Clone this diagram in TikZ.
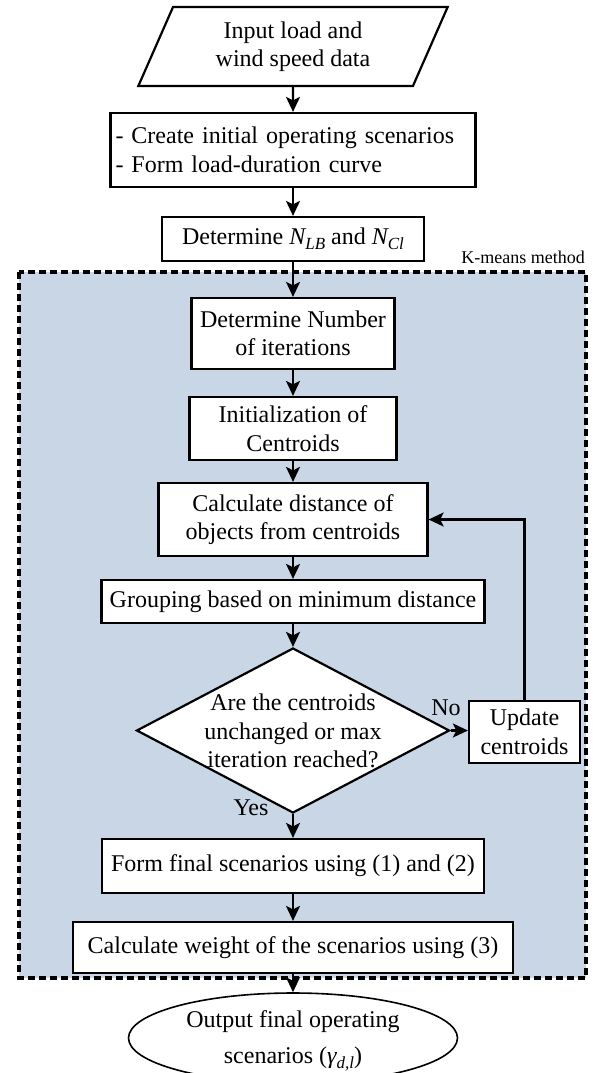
\documentclass[tikz,border=0pt]{standalone}
\usepackage{fontspec}
\setmainfont{Liberation Serif}
\usetikzlibrary{shapes.geometric,arrows.meta}
\definecolor{kbg}{RGB}{200,214,229}
\newcommand{\mysub}[1]{\raisebox{-5pt}{\fontsize{17}{17}\selectfont\itshape #1}}
\begin{document}
\begin{tikzpicture}[x=1pt,y=-1pt,
  every node/.style={font=\fontsize{24}{28.5}\selectfont},
  pbox/.style={draw, line width=2.2pt, fill=white, inner sep=0pt, align=center},
  arr/.style={line width=2.2pt, -{Stealth[length=15pt,width=14pt,inset=3.5pt]}},
  lbl/.style={inner sep=0pt},
]
\useasboundingbox (0,0) rectangle (592,1073);
\fill[white] (0,0) rectangle (592,1073);
\clip (0,0) rectangle (592,1073);
% K-means region
\draw[fill=kbg, line width=3.5pt, dash pattern=on 7pt off 4pt] (19,272) rectangle (586,978);
\node[anchor=base east, inner sep=0pt, font=\fontsize{18}{21}\selectfont] (km) at (585,263) {K-means method};

\node[trapezium, trapezium left angle=66, trapezium right angle=114, trapezium stretches=true,
  draw, line width=2.2pt, fill=white, minimum width=310pt, minimum height=79pt, inner sep=0pt, align=center]
  (in) at (293,46.5) {Input load and\\wind speed data};

\node[pbox, text width=355pt, align=left, inner xsep=5pt, minimum height=74pt] (b2) at (293,150)
  {- Create initial operating scenarios\\- Form load-duration curve};
\node[pbox, minimum width=262pt, minimum height=44pt] (b3) at (293,239)
  {Determine {\itshape N}\mysub{LB} and {\itshape N}\mysub{Cl}};
\node[pbox, minimum width=203pt, minimum height=71pt] (b4) at (293,333.5)
  {Determine Number\\of iterations};
\node[pbox, minimum width=207pt, minimum height=63pt] (b5) at (293,428.5)
  {Initialization of\\Centroids};
\node[pbox, minimum width=269pt, minimum height=73pt] (b6) at (293,519.5)
  {Calculate distance of\\objects from centroids};
\node[pbox, minimum width=383pt, minimum height=43pt] (b7) at (293,601.5)
  {Grouping based on minimum distance};
\node[diamond, draw, line width=2.2pt, fill=white, minimum width=313pt, minimum height=165pt, inner sep=0pt, aspect=1.9]
  (dia) at (293,730.5) {};
\node[lbl, align=center] (diatxt) at (293,731) {Are the centroids\\unchanged or max\\iteration reached?};
\node[pbox, minimum width=111pt, minimum height=62pt] (upd) at (524.5,732)
  {Update\\centroids};
\node[pbox, minimum width=382pt, minimum height=54pt] (b8) at (293,866)
  {Form final scenarios using (1) and (2)};
\node[pbox, minimum width=440pt, minimum height=51pt] (b9) at (293,947.5)
  {Calculate weight of the scenarios using (3)};
\node[ellipse, draw, line width=1.6pt, fill=white, minimum width=329pt, minimum height=90pt, inner sep=0pt]
  (out) at (293,1038) {};
\node[lbl, align=center] (outtxt) at (293,1041) {Output final operating\\[7pt]scenarios ({\itshape γ}\mysub{d,l})};

\node[lbl] (no) at (446,708) {No};
\node[lbl] (yes) at (251,808) {Yes};

\draw[arr] (in.south) -- (b2.north);
\draw[arr] (b2.south) -- (b3.north);
\draw[arr] (b3.south) -- (b4.north);
\draw[arr] (b4.south) -- (b5.north);
\draw[arr] (b5.south) -- (b6.north);
\draw[arr] (b6.south) -- (b7.north);
\draw[arr] (b7.south) -- (dia.north);
\draw[arr] (dia.east) -- (dia.east -| upd.west);
\draw[arr] (upd.north) |- (b6.east);
\draw[arr] (dia.south) -- (b8.north);
\draw[arr] (b8.south) -- (b9.north);
\draw[arr] (b9.south) -- (out.north);
\end{tikzpicture}
\end{document}
